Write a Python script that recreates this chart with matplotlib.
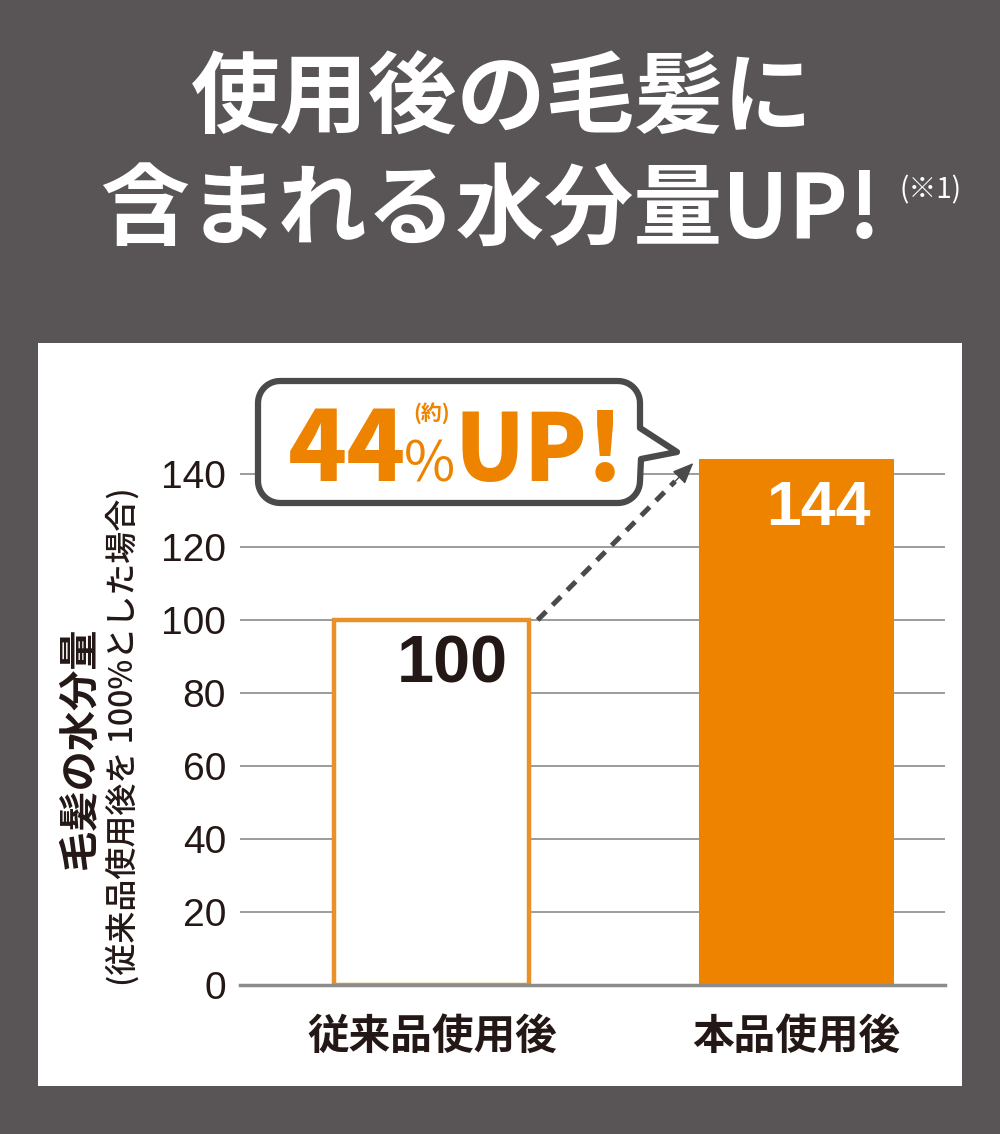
import matplotlib
matplotlib.use("Agg")
import matplotlib.pyplot as plt
import matplotlib.transforms as mtransforms
from matplotlib.patches import Rectangle, PathPatch
from matplotlib.path import Path
import numpy as np

plt.rcParams["font.family"] = ["Noto Sans CJK JP", "DejaVu Sans"]

# data
categories = ["従来品使用後", "本品使用後"]
values = [100, 144]
yticks = [0, 20, 40, 60, 80, 100, 120, 140]
title_lines = ["使用後の毛髪に", "含まれる水分量UP!"]
note = "(※1)"
ylabel_main = "毛髪の水分量"
ylabel_sub = "(従来品使用後を 100%とした場合)"
up_number = "44"

BG = "#595556"
ORANGE = "#EE8300"
ORANGE_EDGE = "#E8902A"
TXT = "#231815"
DARK = "#4A4A4A"

W, H = 1000, 1134
fig = plt.figure(figsize=(W / 100, H / 100), dpi=100)
fig.patch.set_facecolor(BG)

# pixel transform (image coords, y down)
px = mtransforms.Affine2D().scale(1 / W, -1 / H).translate(0, 1) + fig.transFigure

# white panel
fig.patches.append(Rectangle((38, 343), 924, 743, transform=px,
                             facecolor="white", edgecolor="none", zorder=-1))

# title
fig.text(502, 101, title_lines[0], transform=px, ha="center", va="center",
         color="white", fontsize=64, fontweight="bold")
fig.text(491, 212, title_lines[1], transform=px, ha="center", va="center",
         color="white", fontsize=64, fontweight="bold")
fig.text(931, 190, note, transform=px, ha="center", va="center",
         color="white", fontsize=20)

# axes
ax = fig.add_axes([0.240, 1 - 985 / H, 0.705, 547.5 / H])
ax.set_zorder(1)
ax.set_facecolor("none")
ax.set_xlim(-0.5267, 1.4074)
ax.set_ylim(0, 150)
x = np.arange(len(categories))
ax.set_yticks(yticks)
ax.set_yticklabels([str(t) for t in yticks], fontsize=28,
                   family="Liberation Sans", color=TXT)
ax.tick_params(axis="y", length=0, pad=10)
ax.tick_params(axis="x", length=0, pad=22)
ax.set_xticks(x)
ax.set_xticklabels(categories, fontsize=30, fontweight="bold", color=TXT)
for s in ["top", "right", "left"]:
    ax.spines[s].set_visible(False)
ax.spines["bottom"].set_color("#8C8C8C")
ax.spines["bottom"].set_linewidth(2.5)
ax.spines["bottom"].set_zorder(5)
ax.yaxis.grid(True, color="#9C9C9C", linewidth=1.4)
ax.set_axisbelow(True)

ax.bar(x[0], values[0], width=0.535, facecolor="white",
       edgecolor=ORANGE_EDGE, linewidth=3.2, zorder=3)
ax.bar(x[1], values[1], width=0.535, facecolor=ORANGE,
       edgecolor="none", zorder=3)

ax.text(x[0] + 0.055, values[0] - 12.5, str(values[0]), ha="center",
        va="center", fontsize=48, fontweight="bold",
        family="Liberation Sans", color=TXT, zorder=6)
ax.text(x[1] + 0.06, values[1] - 13.5, str(values[1]), ha="center",
        va="center", fontsize=45, fontweight="bold",
        family="Liberation Sans", color="white", zorder=6)

# dashed arrow between bars
x0a, y0a = x[0] + 0.29, values[0]
x1a, y1a = x[0] + 0.717, 143
ax.plot([x0a, x1a - 0.05], [y0a, y1a - 5.0], color=DARK, linewidth=3.6,
        linestyle=(0, (2.4, 1.8)), solid_capstyle="butt", zorder=4,
        clip_on=False)
ax.annotate("", xy=(x1a, y1a), xytext=(x1a - 0.06, y1a - 6.0),
            arrowprops=dict(arrowstyle="-|>,head_length=1.3,head_width=0.55",
                            color=DARK, lw=1, shrinkA=0, shrinkB=0),
            zorder=4, annotation_clip=False)

# y label (two lines)
fig.text(80, 748, ylabel_main, transform=px, rotation=90, ha="center",
         va="center", fontsize=29, fontweight="bold", color=TXT)
fig.text(123, 737, ylabel_sub, transform=px, rotation=90, ha="center",
         va="center", fontsize=23, fontweight=500, color=TXT)


# speech-bubble callout
def callout_path(x0, y0, x1, y1, r, tail):
    pts = []

    def arc(cx, cy, a0, a1):
        for a in np.linspace(np.radians(a0), np.radians(a1), 12):
            pts.append((cx + r * np.cos(a), cy + r * np.sin(a)))

    arc(x0 + r, y0 + r, 180, 270)
    arc(x1 - r, y0 + r, 270, 360)
    pts.extend(tail)
    arc(x1 - r, y1 - r, 0, 90)
    arc(x0 + r, y1 - r, 90, 180)
    pts.append(pts[0])
    codes = [Path.MOVETO] + [Path.LINETO] * (len(pts) - 2) + [Path.CLOSEPOLY]
    return Path(pts, codes)


bubble = callout_path(258, 381, 640, 503, 22,
                      [(640, 428), (677, 452), (641, 459)])
fig.patches.append(PathPatch(bubble, transform=px, facecolor="white",
                             edgecolor=DARK, linewidth=4.5, zorder=10,
                             joinstyle="round"))

fig.text(288, 481, up_number, transform=px, ha="left", va="baseline",
         color=ORANGE, fontsize=70, fontweight="heavy", zorder=11)
fig.text(429, 481, "%", transform=px, ha="center", va="baseline",
         color=ORANGE, fontsize=40, zorder=11)
fig.text(432, 413, "(約)", transform=px, ha="center", va="center",
         color=ORANGE, fontsize=15, fontweight="bold", zorder=11)
fig.text(454, 481, "UP!", transform=px, ha="left", va="baseline",
         color=ORANGE, fontsize=66, fontweight="heavy", zorder=11)

fig.savefig("out.png", dpi=100, facecolor=BG)
